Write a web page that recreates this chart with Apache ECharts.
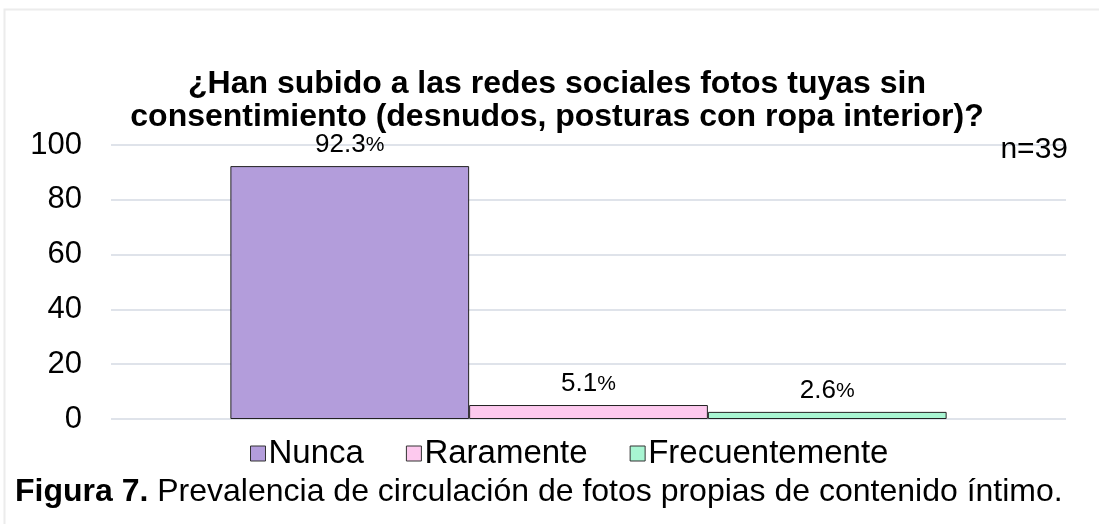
<!DOCTYPE html>
<html>
<head>
<meta charset="utf-8">
<script src="https://cdn.jsdelivr.net/npm/echarts@6/dist/echarts.min.js"></script>
<style>
  html, body { margin: 0; padding: 0; background: #fff; }
  #chart { width: 1099px; height: 524px; }
</style>
</head>
<body>
<div id="chart"></div>
<script>
const series_names = ['Nunca', 'Raramente', 'Frecuentemente'];
const series_values = [92.3, 5.1, 2.6];
const series_colors = ['#b39ddb', '#fdc9ee', '#a8f5d2'];
const y_ticks = [0, 20, 40, 60, 80, 100];

const font = 'Liberation Sans, Arial, sans-serif';

const series_converted = [];
for (let i = 0; i < series_names.length; i++) {
    series_converted.push({
        name: series_names[i],
        type: 'bar',
        data: [series_values[i]],
        barGap: '0%',
        barCategoryGap: '25%',
        itemStyle: { color: series_colors[i], borderColor: '#222', borderWidth: 1 },
        label: {
            show: true,
            position: 'top',
            distance: 8,
            color: '#000',
            fontFamily: font,
            fontSize: 26,
            formatter: (p) => `${p.value.toFixed(1)}{p|%}`,
            rich: { p: { fontSize: 21, fontFamily: font, color: '#000' } }
        }
    });
}

const option = {
    backgroundColor: '#fff',
    animation: false,
    title: [
        {
            text: '¿Han subido a las redes sociales fotos tuyas sin\nconsentimiento (desnudos, posturas con ropa interior)?',
            left: 557,
            textAlign: 'center',
            top: 68,
            padding: 0,
            textStyle: { fontFamily: font, fontSize: 32, fontWeight: 'bold', color: '#000', lineHeight: 33 }
        },
        {
            text: 'n=39',
            right: 31,
            top: 135,
            padding: 0,
            textStyle: { fontFamily: font, fontSize: 30, fontWeight: 'normal', color: '#000' }
        },
        {
            text: '{b|Figura 7.} Prevalencia de circulación de fotos propias de contenido íntimo.',
            left: 15,
            top: 476,
            padding: 0,
            textStyle: {
                fontFamily: font, fontSize: 32, fontWeight: 'normal', color: '#000',
                rich: { b: { fontFamily: font, fontSize: 32, fontWeight: 'bold', color: '#000' } }
            }
        }
    ],
    graphic: [
        {
            type: 'rect',
            shape: { x: 4.5, y: 9.5, width: 1110, height: 600 },
            style: { fill: 'none', stroke: '#ececec', lineWidth: 2 },
            silent: true
        }
    ],
    legend: {
        data: series_names,
        top: 432,
        left: 245,
        itemWidth: 15,
        itemHeight: 15,
        itemGap: 42,
        icon: 'rect',
        itemStyle: { borderColor: '#333', borderWidth: 1 },
        textStyle: { fontFamily: font, fontSize: 33, color: '#000', padding: [0, 0, 0, -2] }
    },
    grid: { left: 111, right: 33, top: 145, bottom: 105 },
    xAxis: {
        type: 'category',
        data: [''],
        axisLine: { show: false },
        axisTick: { show: false },
        axisLabel: { show: false }
    },
    yAxis: {
        type: 'value',
        min: y_ticks[0],
        max: y_ticks[y_ticks.length - 1],
        interval: 20,
        axisLine: { show: false },
        axisTick: { show: false },
        axisLabel: { fontFamily: font, fontSize: 31, color: '#000', margin: 29 },
        splitLine: { lineStyle: { color: '#dfe3ea', width: 2 } }
    },
    series: series_converted
};

const myChart = echarts.init(document.getElementById('chart'));
myChart.setOption(option);
</script>
</body>
</html>
